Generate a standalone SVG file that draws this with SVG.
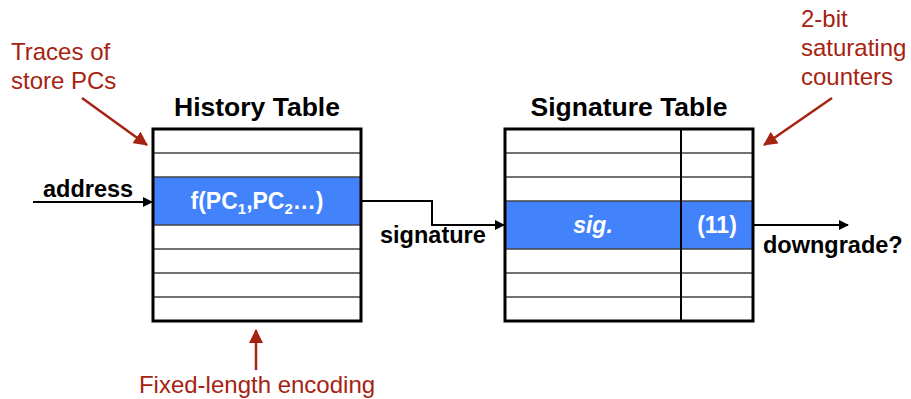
<svg xmlns="http://www.w3.org/2000/svg" width="911" height="399" viewBox="0 0 911 399">
<style>
.red{font-family:"Liberation Sans",Arial,sans-serif;font-size:24px;fill:#a62311}
.lbl{font-family:"Liberation Sans",Arial,sans-serif;font-size:23.5px;font-weight:bold;fill:#000}
.ttl{font-family:"Liberation Sans",Arial,sans-serif;font-size:26.5px;font-weight:bold;fill:#000}
.wt{font-family:"Liberation Sans",Arial,sans-serif;font-size:23px;font-weight:bold;fill:#fff}
.row{stroke:#444;stroke-width:1.6}
.frame{fill:none;stroke:#000;stroke-width:3}
.conn{fill:none;stroke:#000;stroke-width:2}
.rarr{fill:none;stroke:#a62311;stroke-width:2.5}
</style>
<defs>
<marker id="ab" markerWidth="10" markerHeight="10" refX="9" refY="5" orient="auto" markerUnits="userSpaceOnUse" viewBox="0 0 10 10">
<path d="M0,0 L10,5 L0,10 z" fill="#000"/>
</marker>
<marker id="ar" markerWidth="14" markerHeight="14" refX="13" refY="7" orient="auto" markerUnits="userSpaceOnUse" viewBox="0 0 14 14">
<path d="M0,0 L14,7 L0,14 z" fill="#a62311"/>
</marker>
</defs>

<g id="history-table">
<rect x="153" y="129" width="208" height="192" fill="#fff"/>
<rect x="153" y="177" width="208" height="48" fill="#4282fb"/>
<line class="row" x1="153" y1="153" x2="361" y2="153"/>
<line class="row" x1="153" y1="177" x2="361" y2="177"/>
<line class="row" x1="153" y1="225" x2="361" y2="225"/>
<line class="row" x1="153" y1="249" x2="361" y2="249"/>
<line class="row" x1="153" y1="273" x2="361" y2="273"/>
<line class="row" x1="153" y1="297" x2="361" y2="297"/>
<rect class="frame" x="153" y="129" width="208" height="192"/>
<text class="ttl" x="257" y="116" text-anchor="middle">History Table</text>
<text class="wt" x="257" y="209" text-anchor="middle">f(PC<tspan font-size="15" dy="5">1</tspan><tspan dy="-5">,PC</tspan><tspan font-size="15" dy="5">2</tspan><tspan dy="-5">…)</tspan></text>
</g>

<g id="signature-table">
<rect x="505" y="129" width="248" height="192" fill="#fff"/>
<rect x="505" y="201" width="248" height="48" fill="#4282fb"/>
<line class="row" x1="505" y1="153" x2="753" y2="153"/>
<line class="row" x1="505" y1="177" x2="753" y2="177"/>
<line class="row" x1="505" y1="201" x2="753" y2="201"/>
<line class="row" x1="505" y1="249" x2="753" y2="249"/>
<line class="row" x1="505" y1="273" x2="753" y2="273"/>
<line class="row" x1="505" y1="297" x2="753" y2="297"/>
<line x1="681" y1="129" x2="681" y2="321" stroke="#000" stroke-width="2"/>
<rect class="frame" x="505" y="129" width="248" height="192"/>
<text class="ttl" x="629" y="116" text-anchor="middle">Signature Table</text>
<text class="wt" x="593" y="233" text-anchor="middle" font-style="italic">sig.</text>
<text class="wt" x="717" y="233" text-anchor="middle">(11)</text>
</g>

<g id="annotations">
<text class="red" x="11" y="60">Traces of</text>
<text class="red" x="11" y="89">store PCs</text>
<text class="red" x="801" y="27">2-bit</text>
<text class="red" x="801" y="56">saturating</text>
<text class="red" x="801" y="85">counters</text>
<text class="red" x="257" y="393" text-anchor="middle">Fixed-length encoding</text>
<text class="lbl" x="43" y="197">address</text>
<text class="lbl" x="380" y="243">signature</text>
<text class="lbl" x="763" y="253">downgrade?</text>
</g>

<g id="connectors">
<line class="conn" x1="33" y1="202" x2="152" y2="202" marker-end="url(#ab)"/>
<polyline class="conn" points="361,201 432,201 432,225 504,225" marker-end="url(#ab)"/>
<line class="conn" x1="753" y1="225" x2="848" y2="225" marker-end="url(#ab)"/>
<line class="rarr" x1="82" y1="98" x2="147" y2="145" marker-end="url(#ar)"/>
<line class="rarr" x1="832" y1="98" x2="764" y2="145" marker-end="url(#ar)"/>
<line class="rarr" x1="256" y1="370" x2="256" y2="330" marker-end="url(#ar)"/>
</g>
</svg>
